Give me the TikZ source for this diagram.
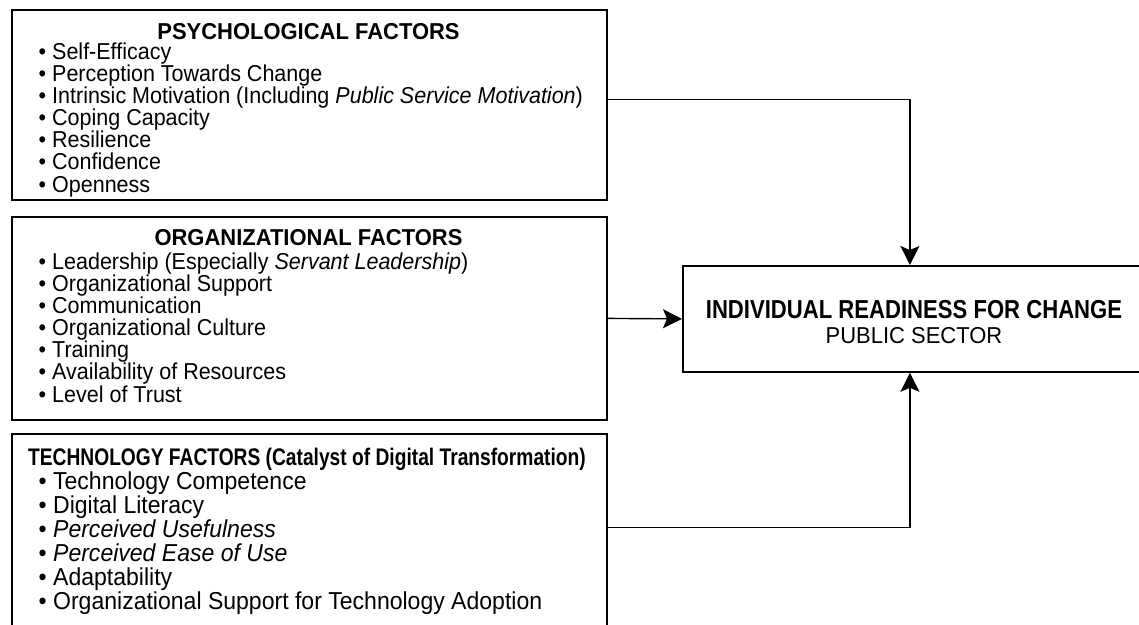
\documentclass[tikz,border=0pt]{standalone}
\usepackage{fontspec}
\setmainfont{Liberation Sans}[FakeStretch=0.935]
\newfontfamily\headfont{Liberation Sans}[FakeStretch=0.955]
\newfontfamily\techfont{Liberation Sans}[FakeStretch=0.94]
\newfontfamily\narrowbold{Liberation Sans}[FakeStretch=0.80]
\newfontfamily\goalfont{Liberation Sans}[FakeStretch=0.85]
\usetikzlibrary{arrows.meta}
\begin{document}
\begin{tikzpicture}[x=1pt,y=-1pt,
  factorbox/.style={draw=black, line width=1.8pt, inner sep=0pt, anchor=north west, rectangle},
  itemtext/.style={anchor=base west, inner sep=0pt, font=\fontsize{23}{22}\selectfont},
  bigitem/.style={anchor=base west, inner sep=0pt, font=\fontsize{24.5}{24}\techfont},
  headtext/.style={anchor=base, inner sep=0pt, font=\fontsize{23}{22}\headfont\bfseries},
  conn/.style={draw=black, line width=1.4pt, -{Stealth[length=19pt,width=19pt,inset=4pt]}}
]
\useasboundingbox (0,0) rectangle (1139,624);

% boxes
\node[factorbox, minimum width=595pt, minimum height=190pt] (psy) at (11,9) {};
\node[factorbox, minimum width=595pt, minimum height=203pt] (org) at (11,216) {};
\node[factorbox, minimum width=595pt, minimum height=230pt] (tech) at (11,433) {};
\node[factorbox, minimum width=458pt, minimum height=106pt] (goal) at (682,265) {};

% psychological factors
\node[headtext] (psyhead) at (308.5,39.5) {PSYCHOLOGICAL FACTORS};
\foreach \t [count=\i] in {Self-Efficacy, Perception Towards Change,
    Intrinsic Motivation (Including \textit{Public Service Motivation}),
    Coping Capacity, Resilience, Confidence, Openness}
  \node[itemtext] (psy\i) at (38.5,{59+22.17*(\i-1)}) {• \t};

% organizational factors
\node[headtext] (orghead) at (308.5,245.5) {ORGANIZATIONAL FACTORS};
\foreach \t [count=\i] in {Leadership (Especially \textit{Servant Leadership}),
    Organizational Support, Communication, Organizational Culture, Training,
    Availability of Resources, Level of Trust}
  \node[itemtext] (org\i) at (38.5,{269+22.17*(\i-1)}) {• \t};

% technology factors
\node[headtext, anchor=base west, font=\fontsize{24}{24}\narrowbold\bfseries] (techhead) at (28,465) {TECHNOLOGY FACTORS (Catalyst of Digital Transformation)};
\foreach \t [count=\i] in {Technology Competence, Digital Literacy,
    \textit{Perceived Usefulness}, \textit{Perceived Ease of Use}, Adaptability,
    Organizational Support for Technology Adoption}
  \node[bigitem] (tech\i) at (38.5,{489+24*(\i-1)}) {• \t};

% outcome
\node[headtext, font=\fontsize{26}{26}\goalfont\bfseries] (goalhead) at (914,318) {INDIVIDUAL READINESS FOR CHANGE};
\node[headtext, font=\fontsize{23}{22}\headfont] (goalsub) at (914,343) {PUBLIC SECTOR};

% connectors
\draw[conn] ([yshift=5.7pt]psy.east) -| ([xshift=-2pt]goal.north);
\draw[conn] (org.east) -- (goal.west);
\draw[conn] ([yshift=21.3pt]tech.east) -| ([xshift=-2pt]goal.south);
\end{tikzpicture}
\end{document}
